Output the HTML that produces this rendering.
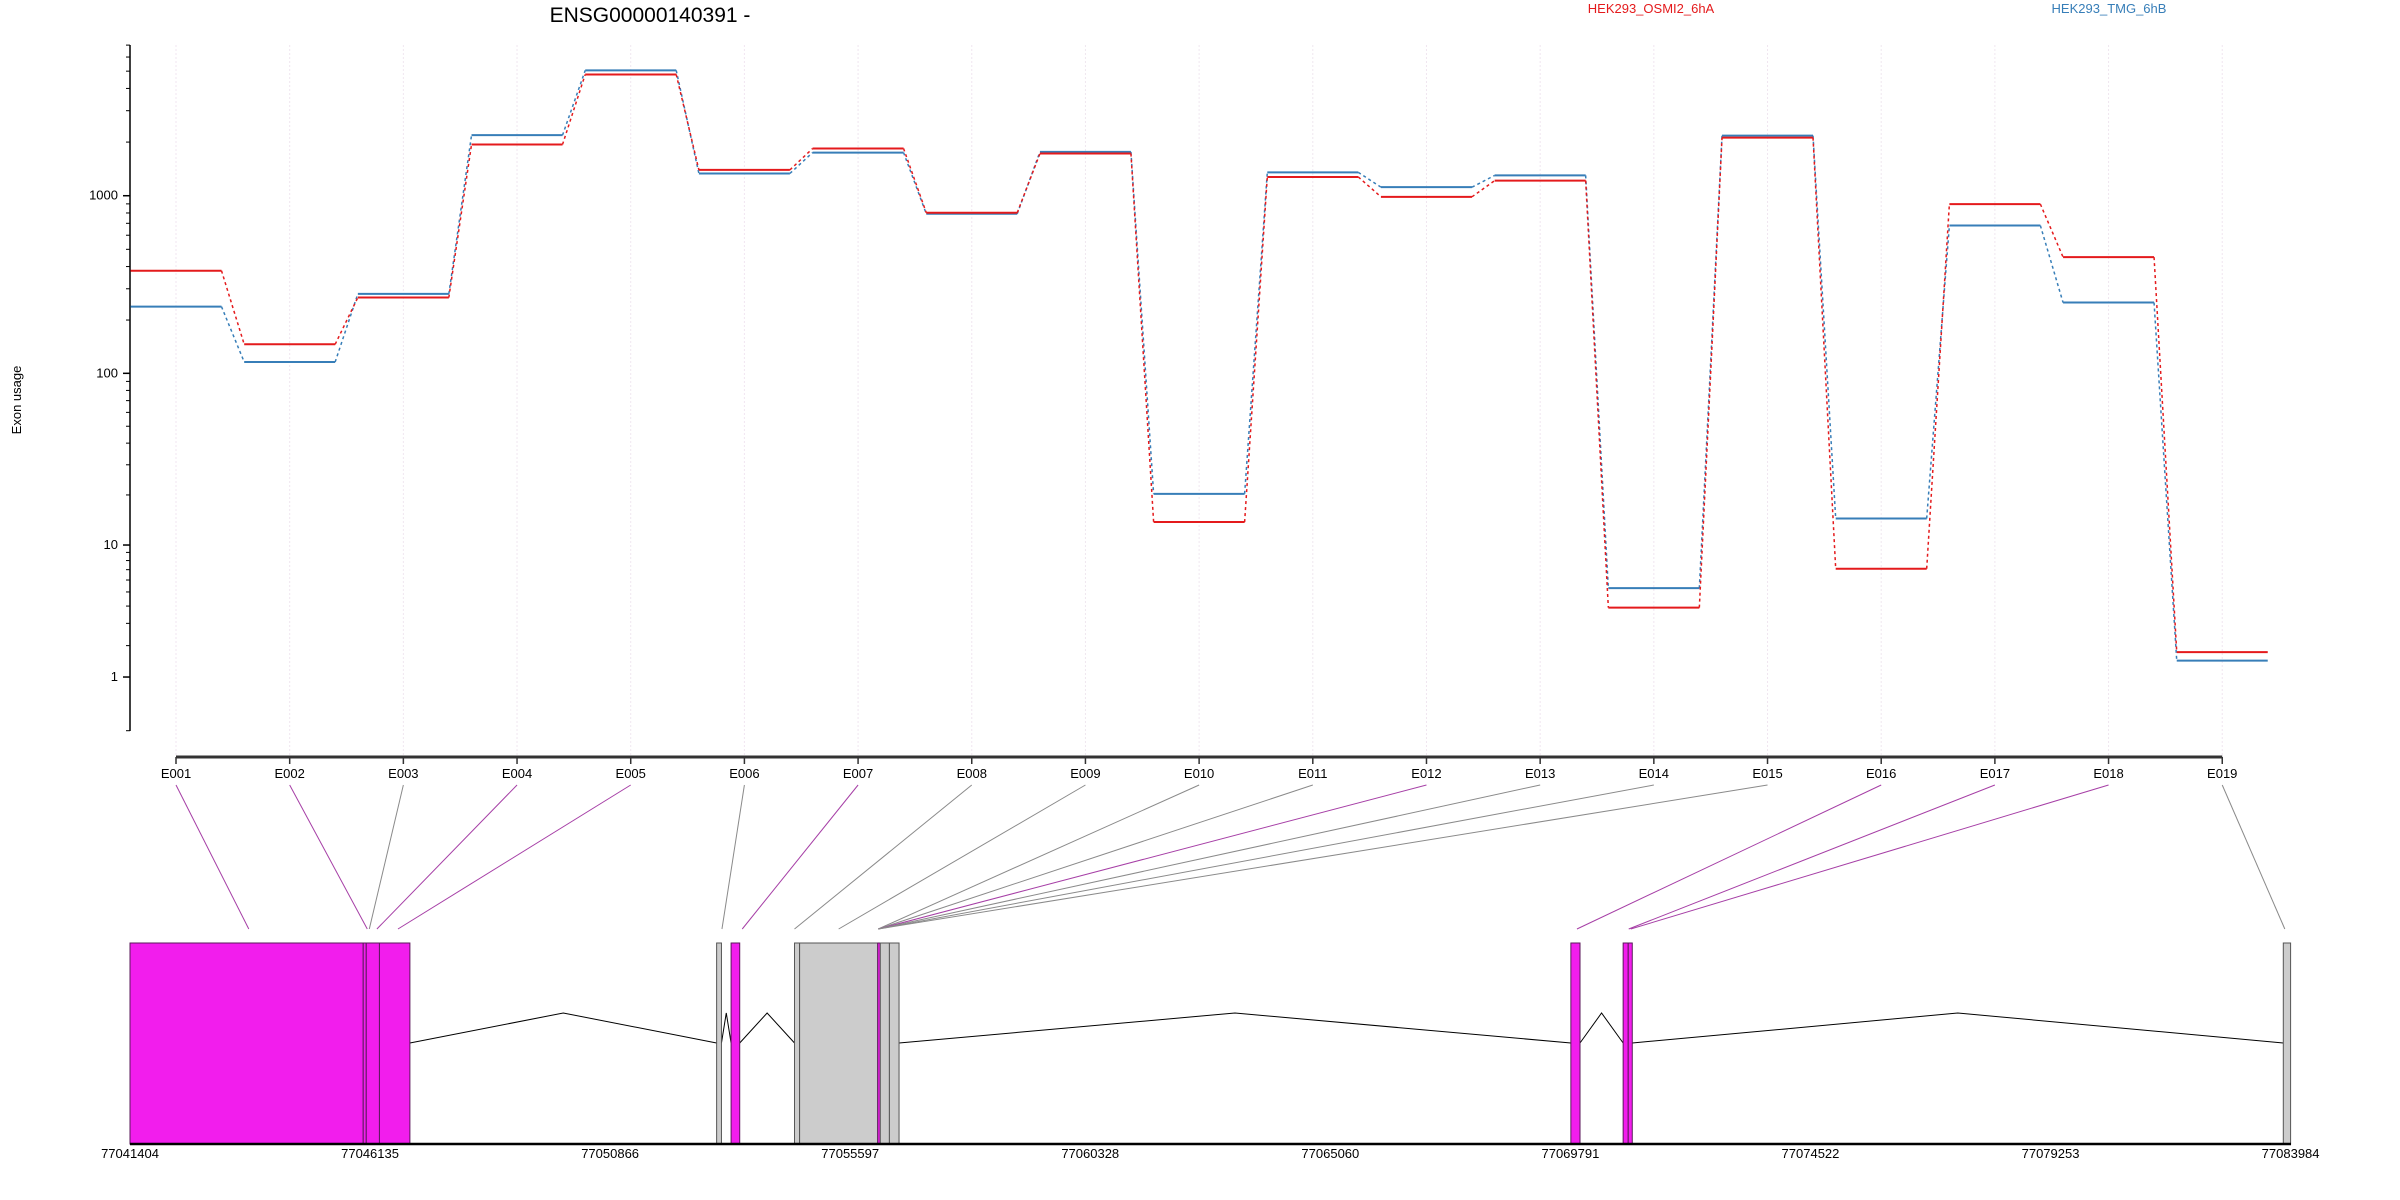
<!DOCTYPE html>
<html><head><meta charset="utf-8"><style>
html,body{margin:0;padding:0;background:#fff;}
svg{display:block;font-family:"Liberation Sans",sans-serif;}
</style></head><body>
<svg id="chart" width="2400" height="1200" viewBox="0 0 2400 1200" xmlns="http://www.w3.org/2000/svg">
<text x="650" y="22" font-size="21" text-anchor="middle" fill="#000">ENSG00000140391 -</text>
<text x="1651" y="13" font-size="13" text-anchor="middle" fill="#e41a1c">HEK293_OSMI2_6hA</text>
<text x="2109" y="13" font-size="13" text-anchor="middle" fill="#377eb8">HEK293_TMG_6hB</text>
<text x="21" y="400" font-size="13" text-anchor="middle" transform="rotate(-90 21 400)">Exon usage</text>
<g id="grid"></g><g id="yaxis"></g><g id="series"></g><g id="xaxis"></g><g id="links"></g><g id="gene"></g><g id="gaxis"></g>
</svg>
<script>
const exons = ["E001","E002","E003","E004","E005","E006","E007","E008","E009","E010","E011","E012","E013","E014","E015","E016","E017","E018","E019"];
const osmiValues = [379,146,268,1940,4790,1396,1840,803,1725,13.8,1274,986,1216,3.9,2117,7.1,897,452,1.76];
const tmgValues = [238,116,281,2187,5050,1333,1746,792,1762,20.3,1352,1117,1300,5.3,2173,14.5,680,251,1.47];
const yTickLabels = ["1","10","100","1000"];
const yTickValues = [1,10,100,1000];
const exonGenomicTarget = [77043745,77046080,77046120,77046270,77046685,77053070,77053470,77054500,77055370,77056150,77056150,77056150,77056150,77056150,77056150,77069920,77070940,77070980,77083870];
const exonFlagged = [1,1,0,1,1,0,1,0,0,0,0,1,0,0,0,1,1,1,0];
const genomicTicks = [77041404,77046135,77050866,77055597,77060328,77065060,77069791,77074522,77079253,77083984];
const blocks = [[77041404,77046000,1],[77046000,77046060,1],[77046060,77046320,1],[77046320,77046920,1],
 [77052965,77053060,0],[77053250,77053420,1],[77054500,77054600,0],[77054600,77056140,0],[77056140,77056190,1],[77056190,77056370,0],[77056370,77056560,0],
 [77069800,77069980,1],[77070830,77070930,1],[77070930,77071010,1],[77083840,77083984,0]];
const groups = [[77041404,77046920],[77052965,77053060],[77053250,77053420],[77054500,77056560],[77069800,77069980],[77070830,77071010],[77083840,77083984]];

const NS="http://www.w3.org/2000/svg";
function mk(tag,attrs,parent){const e=document.createElementNS(NS,tag);for(const k in attrs)e.setAttribute(k,attrs[k]);parent.appendChild(e);return e;}
const xE = i => 176 + i*113.68;
const yV = v => 730.7 - 178.3*Math.log10(v+1);
const gx = g => 130 + (g-77041404)*(2160.6/42580);
const half = 45.5;

const grid=document.getElementById('grid');
exons.forEach((e,i)=>{const l=mk('line',{x1:xE(i),x2:xE(i),y1:45,y2:757,stroke:'#f0e6f0','stroke-width':1,'stroke-dasharray':'2,2'},grid);

});

const ya=document.getElementById('yaxis');
const yl=mk('line',{x1:130,x2:130,y1:45,y2:731,stroke:'#000','stroke-width':1.5},ya);


const minor=[0];
[1,10,100,1000].forEach(d=>{for(let k=1;k<10;k++){const v=k*d;if(yV(v)>=45)minor.push(v);}});
minor.forEach(v=>{const t=mk('line',{x1:126,x2:130,y1:yV(v),y2:yV(v),stroke:'#000','stroke-width':1},ya);

});
yTickValues.forEach((v,i)=>{const t=mk('line',{x1:123,x2:130,y1:yV(v),y2:yV(v),stroke:'#000','stroke-width':1.5},ya);


const tx=mk('text',{x:118,y:yV(v)+4,'font-size':13,'text-anchor':'end'},ya);tx.textContent=yTickLabels[i];

});

const sg=document.getElementById('series');
function drawSeries(vals,color,name){
  vals.forEach((v,i)=>{
    const s=mk('line',{x1:xE(i)-half,x2:xE(i)+half,y1:yV(v),y2:yV(v),stroke:color,'stroke-width':2},sg);
    
    
    if(i<vals.length-1){
      const c=mk('line',{x1:xE(i)+half,x2:xE(i+1)-half,y1:yV(v),y2:yV(vals[i+1]),stroke:color,'stroke-width':1.5,'stroke-dasharray':'3,3'},sg);
      
      
    }
  });
}
drawSeries(tmgValues,'#377eb8','tmg');
drawSeries(osmiValues,'#e41a1c','osmi');

const xa=document.getElementById('xaxis');
const xl=mk('line',{x1:xE(0),x2:xE(18),y1:757,y2:757,stroke:'#333','stroke-width':3},xa);


exons.forEach((e,i)=>{const t=mk('line',{x1:xE(i),x2:xE(i),y1:757,y2:764,stroke:'#333','stroke-width':1.5},xa);


const tx=mk('text',{x:xE(i),y:778,'font-size':13,'text-anchor':'middle'},xa);tx.textContent=e;

});

const lk=document.getElementById('links');
exons.forEach((e,i)=>{const l=mk('line',{x1:xE(i),y1:785,x2:gx(exonGenomicTarget[i]),y2:929,stroke:exonFlagged[i]?'#a63fa6':'#8a8a8a','stroke-width':1},lk);

});

const gg=document.getElementById('gene');
const gTop=943, gBot=1144, gBase=1043, gPeak=1013;
for(let i=0;i<groups.length-1;i++){const a=gx(groups[i][1]),b=gx(groups[i+1][0]),m=(a+b)/2;
const p=mk('polyline',{points:a+','+gBase+' '+m+','+gPeak+' '+b+','+gBase,fill:'none',stroke:'#000','stroke-width':1},gg);

}
blocks.forEach(b=>{const x1=gx(b[0]),x2=gx(b[1]);
const r=mk('rect',{x:x1,y:gTop,width:Math.max(x2-x1,1.5),height:gBot-gTop,fill:b[2]?'#f21ded':'#cccccc',stroke:b[2]?'#5a1a5a':'#555','stroke-width':1},gg);

});

const ga=document.getElementById('gaxis');
const gl=mk('line',{x1:130,x2:2291,y1:1144,y2:1144,stroke:'#000','stroke-width':2.5},ga);


genomicTicks.forEach(g=>{const tx=mk('text',{x:gx(g),y:1158,'font-size':13,'text-anchor':'middle'},ga);tx.textContent=String(g);

});
</script>
</body></html>
